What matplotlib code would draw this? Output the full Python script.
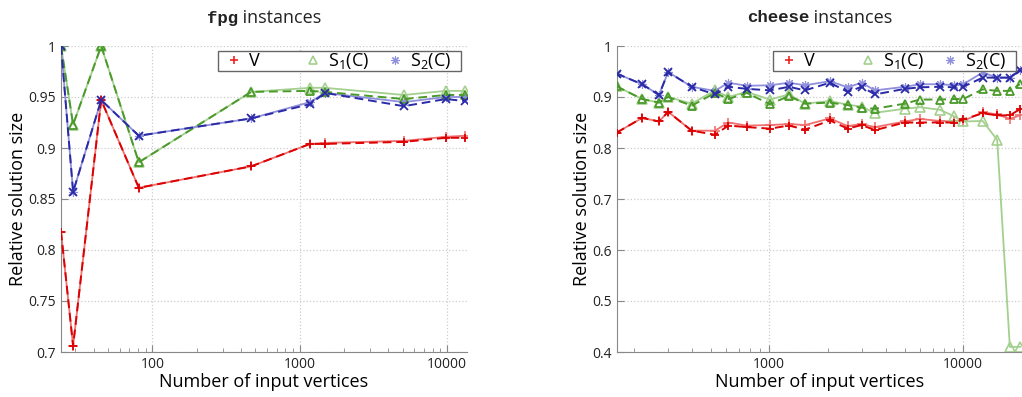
import matplotlib.pyplot as plt
from matplotlib.ticker import NullFormatter, LogLocator

plt.rcParams['font.family'] = ['Open Sans', 'DejaVu Sans']
plt.rcParams['mathtext.default'] = 'regular'

# fpg instances
fpg_n = [24, 29, 45, 81, 469, 1178, 1489, 5100, 9840, 13240]
fpg_v_a = [0.818, 0.706, 0.947, 0.861, 0.882, 0.904, 0.905, 0.907, 0.911, 0.912]
fpg_v_b = [0.818, 0.706, 0.947, 0.861, 0.882, 0.904, 0.904, 0.906, 0.910, 0.910]
fpg_s1_a = [1.0, 0.923, 1.0, 0.886, 0.955, 0.959, 0.959, 0.952, 0.956, 0.956]
fpg_s1_b = [1.0, 0.923, 1.0, 0.886, 0.955, 0.956, 0.955, 0.948, 0.952, 0.952]
fpg_s2_a = [1.0, 0.857, 0.947, 0.912, 0.929, 0.945, 0.954, 0.945, 0.950, 0.950]
fpg_s2_b = [1.0, 0.857, 0.947, 0.912, 0.929, 0.943, 0.954, 0.941, 0.948, 0.946]

# cheese instances
ch_n = [163, 221, 270, 301, 398, 525, 615, 765, 1008, 1264, 1528, 2055,
        2537, 2994, 3505, 5005, 5980, 7580, 8990, 10000, 12600, 14970, 17400, 19600]
ch_v_a = [0.830, 0.859, 0.852, 0.871, 0.834, 0.834, 0.850, 0.844, 0.845, 0.847, 0.845, 0.858,
          0.843, 0.847, 0.841, 0.852, 0.857, 0.853, 0.852, 0.853, 0.870, 0.866, 0.857, 0.864]
ch_v_b = [0.830, 0.859, 0.852, 0.871, 0.834, 0.826, 0.844, 0.841, 0.838, 0.844, 0.836, 0.854,
          0.838, 0.845, 0.835, 0.850, 0.850, 0.850, 0.850, 0.856, 0.868, 0.864, 0.864, 0.876]
ch_s1_a = [0.921, 0.896, 0.889, 0.900, 0.887, 0.913, 0.900, 0.910, 0.895, 0.905, 0.887, 0.892,
           0.885, 0.881, 0.869, 0.877, 0.880, 0.875, 0.862, 0.852, 0.853, 0.816, 0.410, 0.410]
ch_s1_b = [0.921, 0.896, 0.889, 0.900, 0.883, 0.908, 0.896, 0.908, 0.886, 0.902, 0.887, 0.889,
           0.884, 0.879, 0.877, 0.887, 0.895, 0.895, 0.896, 0.896, 0.915, 0.912, 0.912, 0.925]
ch_s2_a = [0.946, 0.925, 0.904, 0.949, 0.920, 0.912, 0.928, 0.922, 0.923, 0.928, 0.923, 0.931,
           0.919, 0.928, 0.913, 0.920, 0.925, 0.925, 0.923, 0.925, 0.948, 0.938, 0.938, 0.952]
ch_s2_b = [0.946, 0.925, 0.904, 0.949, 0.920, 0.905, 0.920, 0.916, 0.913, 0.920, 0.913, 0.928,
           0.910, 0.920, 0.905, 0.916, 0.919, 0.920, 0.919, 0.920, 0.938, 0.938, 0.938, 0.952]

labels = ['V' + ' ' * 6, 'S$_1$(C)', 'S$_2$(C)   ']
light = ['#f07070', '#a3d08f', '#8f8fdc']
dark = ['#dd0000', '#4a9a2a', '#2a2aa8']
light_markers = ['+', '^', (8, 2, 0)]
dark_markers = ['+', '^', 'x']
light_mew = [1.2, 1.2, 0.8]

fig = plt.figure(figsize=(10.22, 3.97), dpi=100)
ax1 = fig.add_axes([61 / 1022, 45 / 397, 406 / 1022, 306 / 397])
ax2 = fig.add_axes([616.5 / 1022, 45 / 397, 405.5 / 1022, 306 / 397])


def draw(ax, n, solid, dashed):
    for i in range(3):
        ax.plot(n, solid[i], color=light[i], lw=1.3, marker=light_markers[i],
                ms=6.5, mew=light_mew[i], mfc='none', zorder=2)
    for i in range(3):
        ax.plot(n, dashed[i], color=dark[i], lw=1.4, ls=(0, (4.5, 2.5)),
                marker=dark_markers[i], ms=6, mew=1.3, mfc='none', zorder=3)
    ax.set_xscale('log')
    ax.grid(True, which='major', ls=':', color='#cccccc', lw=0.9)
    for s in ['top', 'right']:
        ax.spines[s].set_visible(False)
    for s in ['left', 'bottom']:
        ax.spines[s].set_color('#888888')
    ax.tick_params(which='both', direction='in', colors='#888888', labelcolor='#222222',
                   labelsize=10)
    ax.tick_params(which='major', length=5)
    ax.tick_params(which='minor', length=3)
    ax.xaxis.set_minor_locator(LogLocator(base=10, subs=range(2, 10)))
    ax.xaxis.set_minor_formatter(NullFormatter())
    ax.set_xlabel('Number of input vertices', fontsize=13, labelpad=1)
    ax.set_ylabel('Relative solution size', fontsize=13, labelpad=1)
    w = ax.get_position().width * 1022
    hgt = ax.get_position().height * 397
    leg_handles = [plt.Line2D([], [], ls='none', marker=light_markers[i], color=light[i],
                              mfc='none', ms=6, mew=light_mew[i]) for i in range(3)]
    leg_handles[0].set_color('#ee2222')
    leg = ax.legend(leg_handles, labels, loc='upper right', ncol=3, fontsize=13,
                    frameon=True, fancybox=False, edgecolor='#666666', framealpha=1,
                    handlelength=1.7, handletextpad=0.0, columnspacing=0.55,
                    borderpad=0.0, borderaxespad=0,
                    bbox_to_anchor=(1 - 6 / w, 1 - 5 / hgt))
    leg.get_frame().set_linewidth(1.0)
    return ax


draw(ax1, fpg_n, [fpg_v_a, fpg_s1_a, fpg_s2_a], [fpg_v_b, fpg_s1_b, fpg_s2_b])
ax1.set_xlim(24, 13700)
ax1.set_ylim(0.7, 1.0)
ax1.set_xticks([100, 1000, 10000])
ax1.set_xticklabels(['100', '1000', '10000'])
ax1.set_yticks([0.7, 0.75, 0.8, 0.85, 0.9, 0.95, 1.0])
ax1.set_yticklabels(['0.7', '0.75', '0.8', '0.85', '0.9', '0.95', '1'])

draw(ax2, ch_n, [ch_v_a, ch_s1_a, ch_s2_a], [ch_v_b, ch_s1_b, ch_s2_b])
ax2.set_xlim(163, 20100)
ax2.set_ylim(0.4, 1.0)
ax2.set_xticks([1000, 10000])
ax2.set_xticklabels(['1000', '10000'])
ax2.set_yticks([0.4, 0.5, 0.6, 0.7, 0.8, 0.9, 1.0])
ax2.set_yticklabels(['0.4', '0.5', '0.6', '0.7', '0.8', '0.9', '1'])

# titles: monospace bold name + regular text
for xpix, name in [(238, 'fpg'), (809, 'cheese')]:
    fig.text(xpix / 1022, 1 - 18 / 397, name, ha='right', va='center', fontsize=12.5,
             family='Liberation Mono', weight='bold', color='#222222')
    fig.text(xpix / 1022, 1 - 18 / 397, ' instances', ha='left', va='center', fontsize=13,
             color='#222222')

fig.savefig('out.png', dpi=100)
